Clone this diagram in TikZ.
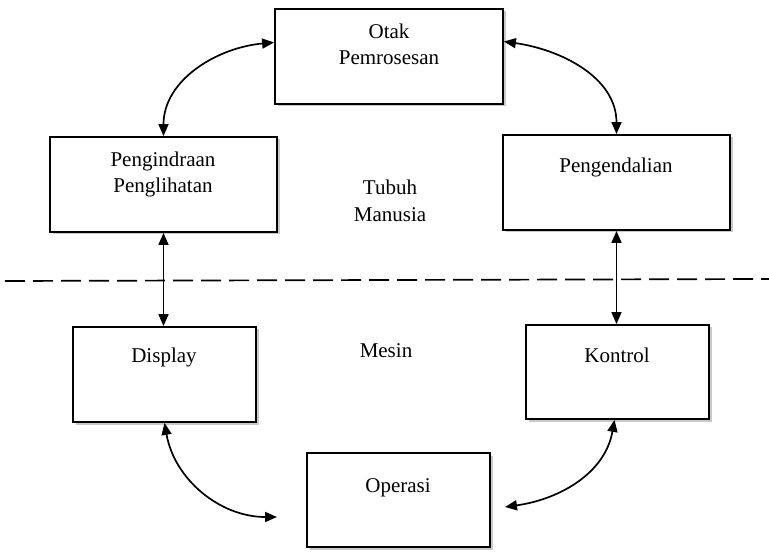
\documentclass[tikz,border=0pt]{standalone}
\usepackage{fontspec}
\setmainfont{Liberation Serif}
\usetikzlibrary{arrows.meta,shadows}
\begin{document}
\begin{tikzpicture}[x=1pt,y=1pt,
  box/.style={draw=black, line width=1.8pt, fill=white, inner sep=0pt,
    drop shadow={shadow xshift=2.5pt, shadow yshift=-2.5pt, fill=gray!60, opacity=0.7}},
  lbl/.style={anchor=base, inner sep=0pt, font=\fontsize{21}{25}\selectfont},
  arr/.style={line width=1.7pt, {Triangle[length=12pt,width=10pt]}-{Triangle[length=12pt,width=10pt]}},
  sep/.style={line width=1.7pt, dash pattern=on 20pt off 8pt}]
\useasboundingbox (0,0) rectangle (769,555);
% boxes
\node[box, minimum width=228pt, minimum height=95pt] (otak) at (389,498.5) {};
\node[box, minimum width=227pt, minimum height=95pt] (peng) at (163.5,370.5) {};
\node[box, minimum width=227pt, minimum height=95pt] (kend) at (616.5,372.5) {};
\node[box, minimum width=183pt, minimum height=95pt] (disp) at (164.5,180.5) {};
\node[box, minimum width=183pt, minimum height=94pt] (kont) at (617.5,183) {};
\node[box, minimum width=183pt, minimum height=94pt] (oper) at (398.5,55) {};
% texts
\node[lbl] (t1) at (389,516) {Otak};
\node[lbl] (t2) at (389,490) {Pemrosesan};
\node[lbl] (t3) at (163,388) {Pengindraan};
\node[lbl] (t4) at (163,362) {Penglihatan};
\node[lbl] (t5) at (616,382) {Pengendalian};
\node[lbl] (t6) at (390,360) {Tubuh};
\node[lbl] (t7) at (390,333) {Manusia};
\node[lbl] (t8) at (164,193) {Display};
\node[lbl] (t9) at (386,197) {Mesin};
\node[lbl] (t10) at (617,193) {Kontrol};
\node[lbl] (t11) at (398,63) {Operasi};
% separator
\coordinate (sl) at (5,274);
\coordinate (sr) at (769,276);
\draw[sep] (sl) -- (sr);
% connectors
\coordinate (e1) at (277,38);
\coordinate (e2) at (505,48);
\draw[arr] (peng.north) to[out=90,in=185] ([yshift=14pt]otak.west);
\draw[arr] ([yshift=15pt]otak.east) to[out=-8,in=90] (kend.north);
\draw[arr] (peng.south) -- (peng.south |- disp.north);
\draw[arr] (kend.south) -- (kend.south |- kont.north);
\draw[arr] (disp.south) to[out=-80,in=180] (e1);
\draw[arr] ([xshift=-3pt]kont.south) to[out=-100,in=8] (e2);
\end{tikzpicture}
\end{document}
